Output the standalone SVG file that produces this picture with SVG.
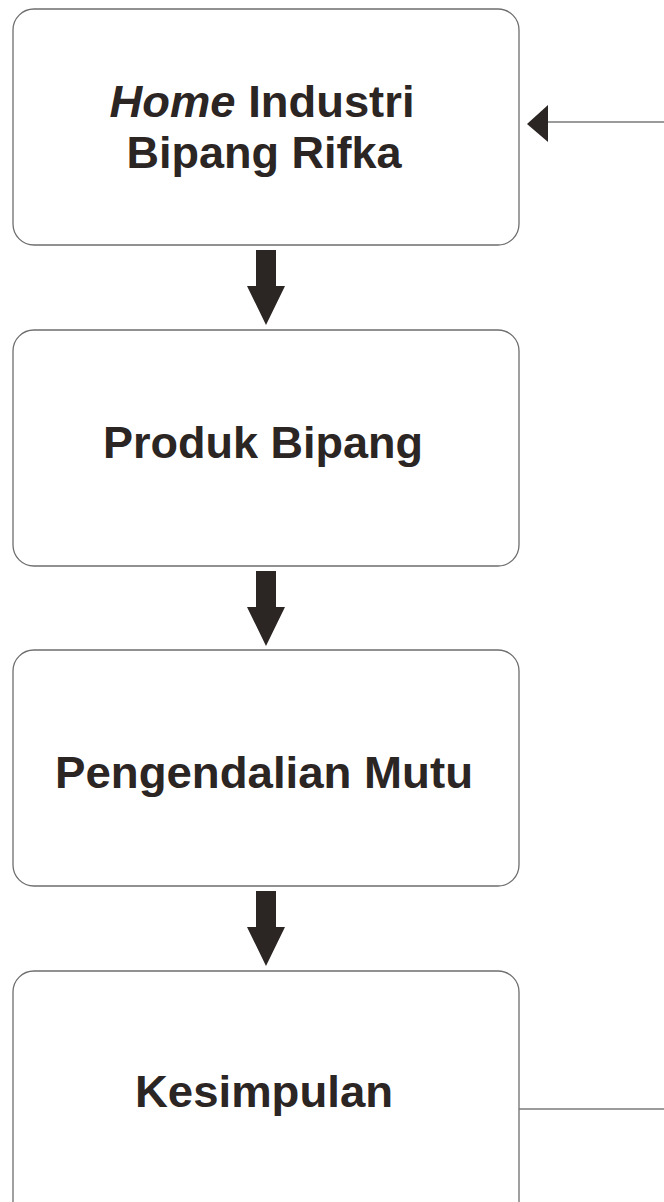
<svg xmlns="http://www.w3.org/2000/svg" width="664" height="1202" viewBox="0 0 664 1202">
<style>
.box{fill:#fff;stroke:#6e6e6e;stroke-width:1.3}
.t{font-family:"Liberation Sans",Arial,sans-serif;font-weight:bold;font-size:45px;fill:#2b2523;text-anchor:middle}
.ar{fill:#2b2523}
.ln{stroke:#7a7a7a;stroke-width:1.5;fill:none}
</style>
<rect width="664" height="1202" fill="#fff"/>
<g id="node1">
<rect class="box" x="13" y="9" width="506" height="236" rx="21"/>
<text class="t" x="262" y="117" textLength="305" lengthAdjust="spacingAndGlyphs"><tspan font-style="italic">Home</tspan> Industri</text>
<text class="t" x="264" y="168" textLength="275" lengthAdjust="spacingAndGlyphs">Bipang Rifka</text>
</g>
<g id="node2">
<rect class="box" x="13" y="330" width="506" height="236" rx="21"/>
<text class="t" x="263" y="458" textLength="320" lengthAdjust="spacingAndGlyphs">Produk Bipang</text>
</g>
<g id="node3">
<rect class="box" x="13" y="650" width="506" height="236" rx="21"/>
<text class="t" x="264" y="788" textLength="418" lengthAdjust="spacingAndGlyphs">Pengendalian Mutu</text>
</g>
<g id="node4">
<rect class="box" x="13" y="971" width="506" height="260" rx="21"/>
<text class="t" x="264" y="1107" textLength="258" lengthAdjust="spacingAndGlyphs">Kesimpulan</text>
</g>
<g id="connectors">
<polygon class="ar" points="256,250 276,250 276,286 285,286 266,325 247,286 256,286"/>
<polygon class="ar" points="256,571 276,571 276,607 285,607 266,646 247,607 256,607"/>
<polygon class="ar" points="256,891 276,891 276,927 285,927 266,966 247,927 256,927"/>
<line class="ln" x1="547" y1="122" x2="664" y2="122"/>
<polygon class="ar" points="527,124 548,105 548,142"/>
<line class="ln" x1="519" y1="1109" x2="664" y2="1109"/>
</g>
</svg>
